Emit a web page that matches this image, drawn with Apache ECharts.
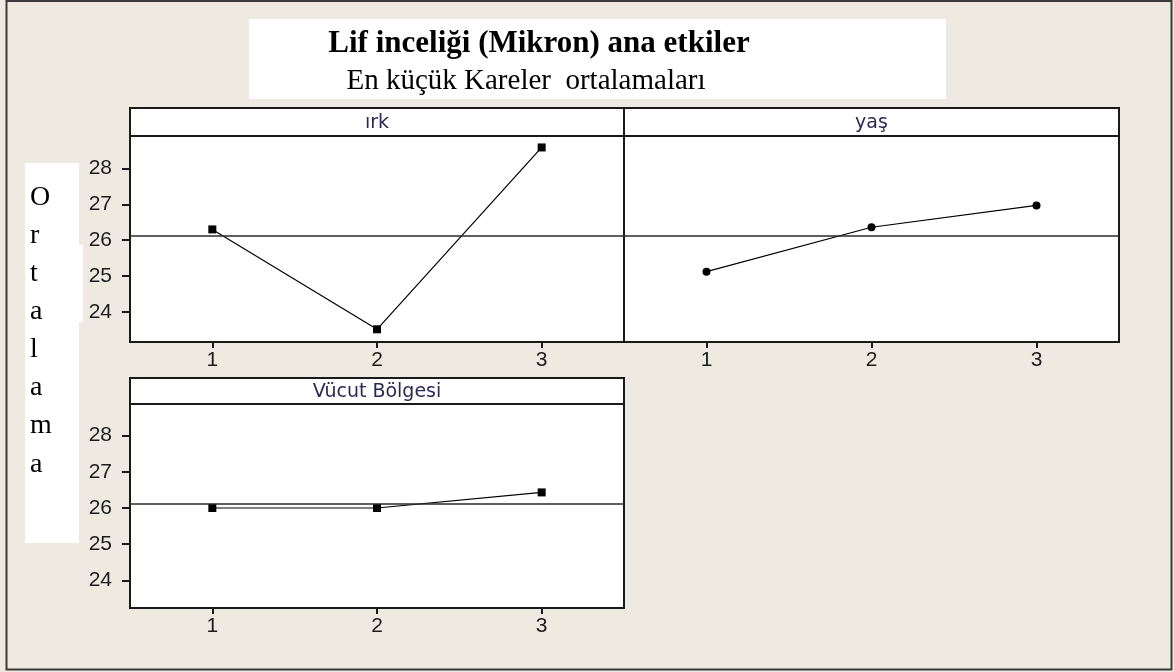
<!DOCTYPE html>
<html>
<head>
<meta charset="utf-8">
<script src="https://cdn.jsdelivr.net/npm/echarts@6/dist/echarts.min.js"></script>
<style>
html,body{margin:0;padding:0;background:#EEEAE1;}
#c{width:1174px;height:672px;}
</style>
</head>
<body>
<div id="c"></div>
<script>
// ---- data ----
const categories = ['1', '2', '3'];
const irkValues = [26.30, 23.51, 28.59];
const yasValues = [25.12, 26.36, 26.97];
const vucutValues = [26.00, 26.00, 26.43];
const grandMean = 26.13;
const yTicks = [24, 25, 26, 27, 28];
const panelNames = ['ırk', 'yaş', 'Vücut Bölgesi'];
const titleText = 'Lif inceliği (Mikron) ana etkiler';
const subtitleText = 'En küçük Kareler  ortalamaları';
const yAxisLetters = ['O', 'r', 't', 'a', 'l', 'a', 'm', 'a'];

// ---- layout ----
const grids = [
  { left: 130, top: 136, width: 494, height: 206, min: 23.155, max: 28.91, showY: true },
  { left: 624, top: 136, width: 495, height: 206, min: 23.155, max: 28.91, showY: false },
  { left: 130, top: 404, width: 494, height: 204, min: 23.24, max: 28.87, showY: true }
];
const headers = [
  { x: 130, y: 108, w: 494, h: 28 },
  { x: 624, y: 108, w: 495, h: 28 },
  { x: 130, y: 378, w: 494, h: 26 }
];
const seriesData = [irkValues, yasValues, vucutValues];
const symbols = ['rect', 'circle', 'rect'];

const chart = echarts.init(document.getElementById('c'), null, { renderer: 'canvas' });

const labelFont = { fontFamily: 'Liberation Sans', fontSize: 21, color: '#1c1c1c' };

const graphics = [];
// outer frame
graphics.push({ type: 'rect', shape: { x: 6.5, y: 1, width: 1165, height: 668.5 },
  style: { fill: 'none', stroke: '#3a3a3a', lineWidth: 2 }, z: 10 });
// title box
graphics.push({ type: 'rect', shape: { x: 249, y: 19, width: 697, height: 80 },
  style: { fill: '#ffffff' }, z: 1 });
graphics.push({ type: 'text', x: 539, y: 44, z: 2,
  style: { text: titleText, fill: '#000', font: 'bold 31px "Liberation Serif"', textAlign: 'center', textVerticalAlign: 'middle' } });
graphics.push({ type: 'text', x: 526, y: 81, z: 2,
  style: { text: subtitleText, fill: '#000', font: '29px "Liberation Serif"', textAlign: 'center', textVerticalAlign: 'middle' } });
// y-axis label box
graphics.push({ type: 'rect', shape: { x: 25, y: 163, width: 54, height: 380 }, style: { fill: '#ffffff' }, z: 1 });
graphics.push({ type: 'rect', shape: { x: 78, y: 245, width: 5, height: 77 }, style: { fill: '#ffffff' }, z: 1 });
yAxisLetters.forEach((ch, i) => {
  graphics.push({ type: 'text', x: 30, y: 197.5 + i * 38.1, z: 2,
    style: { text: ch, fill: '#000', font: '28px "Liberation Serif"', textAlign: 'left', textVerticalAlign: 'middle' } });
});
// panel headers
headers.forEach((h, i) => {
  graphics.push({ type: 'rect', shape: { x: h.x, y: h.y, width: h.w, height: h.h },
    style: { fill: '#ffffff', stroke: '#1a1a1a', lineWidth: 2 }, z: 3 });
  graphics.push({ type: 'text', x: h.x + h.w / 2, y: h.y + h.h / 2 + 1, z: 4,
    style: { text: panelNames[i], fill: '#2a2a55', font: '19px "DejaVu Sans"', textAlign: 'center', textVerticalAlign: 'middle' } });
});

const option = {
  animation: false,
  backgroundColor: '#EEEAE1',
  grid: grids.map(g => ({ left: g.left, top: g.top, width: g.width, height: g.height,
    show: true, backgroundColor: '#ffffff', borderColor: '#1a1a1a', borderWidth: 2, containLabel: false })),
  xAxis: grids.map((g, i) => ({
    type: 'category', gridIndex: i, data: categories, boundaryGap: true,
    axisLine: { show: true, lineStyle: { color: '#1a1a1a', width: 2 } },
    axisTick: { show: true, alignWithLabel: true, length: 6, lineStyle: { color: '#1a1a1a', width: 2 } },
    axisLabel: Object.assign({ margin: 8 }, labelFont),
    splitLine: { show: false }
  })),
  yAxis: grids.map((g, i) => ({
    type: 'value', gridIndex: i, min: g.min, max: g.max,
    axisLine: { show: true, lineStyle: { color: '#1a1a1a', width: 2 } },
    axisTick: { show: g.showY, length: 8, customValues: yTicks, lineStyle: { color: '#1a1a1a', width: 2 } },
    axisLabel: Object.assign({ show: g.showY, margin: 18, customValues: yTicks }, labelFont),
    splitLine: { show: false }
  })),
  series: seriesData.map((d, i) => ({
    type: 'line', xAxisIndex: i, yAxisIndex: i, data: d,
    symbol: symbols[i], symbolSize: 8, showSymbol: true,
    lineStyle: { color: '#000', width: 1.2 },
    itemStyle: { color: '#000' },
    markLine: {
      silent: true, symbol: 'none', label: { show: false },
      lineStyle: { color: '#2a2a2a', width: 1.5, type: 'solid' },
      data: [{ yAxis: grandMean }]
    }
  })),
  graphic: graphics
};
chart.setOption(option);
</script>
</body>
</html>
